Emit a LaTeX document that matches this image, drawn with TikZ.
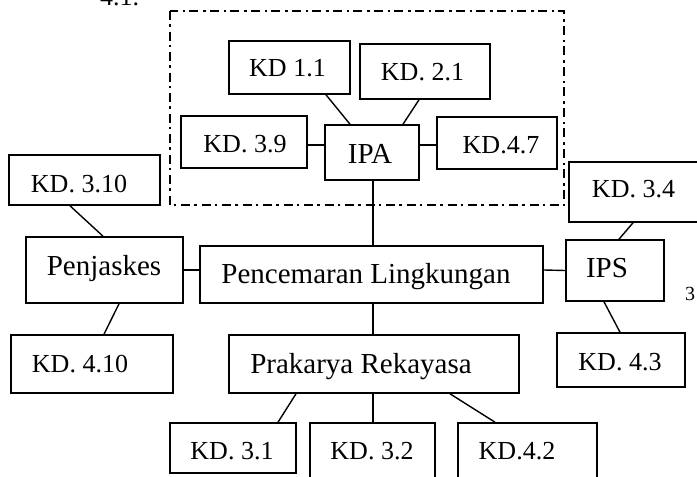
\documentclass[tikz,border=0pt]{standalone}
\usepackage{fontspec}
\setmainfont{Liberation Serif}
\begin{document}
\begin{tikzpicture}[x=1pt,y=-1pt,
  box/.style={draw, line width=1.6pt, rectangle, inner sep=0pt},
  link/.style={line width=1.4pt},
  frame/.style={line width=1.5pt, dash pattern=on 9pt off 4pt on 2.5pt off 5pt},
  kdtxt/.style={anchor=base, inner sep=0pt, font=\fontsize{26}{30}\selectfont},
  subtxt/.style={anchor=base, inner sep=0pt, font=\fontsize{29}{33}\selectfont},
  frag/.style={anchor=base west, inner sep=0pt}]
\clip (0,0) rectangle (697,477);

% box: name, x1, y1, x2, y2
\newcommand\mkbox[5]{\node[box, minimum width={#4-#2}, minimum height={#5-#3}] (#1) at ({(#2+#4)/2},{(#3+#5)/2}) {};}

% grouping frame round the IPA cluster
\draw[frame] (170,11) rectangle (564,205);

% IPA cluster
\mkbox{kdA}{229}{41}{350}{94}
\mkbox{kdB}{360}{44}{490}{99}
\mkbox{kdC}{181}{116}{307}{168}
\mkbox{ipa}{325}{125}{419}{180}
\mkbox{kdD}{437}{117}{557}{169}
\node[kdtxt] at (287.5,76) {KD 1.1};
\node[kdtxt] at (422.5,80) {KD. 2.1};
\node[kdtxt] at (245,152) {KD. 3.9};
\node[subtxt] at (370,163) {IPA};
\node[kdtxt] at (501,153) {KD.4.7};

% left branch
\mkbox{kdE}{9}{155}{160}{205}
\mkbox{pjk}{26}{237}{183}{303}
\mkbox{kdF}{11}{335}{173}{393}
\node[kdtxt] at (79,192) {KD. 3.10};
\node[subtxt] at (104,275) {Penjaskes};
\node[kdtxt] at (80,372) {KD. 4.10};

% centre
\mkbox{pcm}{200}{246}{543}{303}
\node[subtxt] at (366,283) {Pencemaran Lingkungan};

% bottom branch
\mkbox{pkr}{229}{335}{519}{393}
\mkbox{kdG}{170}{423}{296}{473}
\mkbox{kdH}{310}{423}{435}{495}
\mkbox{kdI}{458}{423}{597}{495}
\node[subtxt] at (361,373) {Prakarya Rekayasa};
\node[kdtxt] at (232,459) {KD. 3.1};
\node[kdtxt] at (372,459) {KD. 3.2};
\node[kdtxt] at (517,459) {KD.4.2};

% right branch
\mkbox{kdJ}{569}{162}{725}{222}
\mkbox{ips}{566}{240}{664}{301}
\mkbox{kdK}{557}{333}{685}{387}
\node[kdtxt] at (633.5,197) {KD. 3.4};
\node[subtxt] at (607,277) {IPS};
\node[kdtxt] at (620,370) {KD. 4.3};

% fragments of the surrounding page text
\node[frag, font=\fontsize{26}{30}\selectfont] (topfrag) at (100,5) {4.1.};
\node[frag, font=\fontsize{20}{24}\selectfont] (sidefrag) at (685,300) {3};

% connectors
\draw[link] ([xshift=36.5pt]kdA.south) -- ([xshift=-22pt]ipa.north);
\draw[link] ([xshift=-6pt]kdB.south) -- ([xshift=31pt]ipa.north);
\draw[link] ([yshift=-3pt]kdC.east) -- ([yshift=7.5pt]ipa.west);
\draw[link] ([yshift=-2pt]kdD.west) -- ([yshift=7.5pt]ipa.east);
\draw[link] ([xshift=1pt]ipa.south) -- ([xshift=1.5pt]pcm.north);

\draw[link] ([xshift=-14.5pt]kdE.south) -- ([xshift=-1.5pt]pjk.north);
\draw[link] (pjk.east) -- ([yshift=4.5pt]pcm.west);
\draw[link] ([xshift=14.5pt]pjk.south) -- ([xshift=12pt]kdF.north);

\draw[link] ([xshift=1.5pt]pcm.south) -- ([xshift=-1pt]pkr.north);
\draw[link] ([xshift=-78pt]pkr.south) -- ([xshift=45pt]kdG.north);
\draw[link] ([xshift=-1pt]pkr.south) -- ([xshift=0.5pt]kdH.north);
\draw[link] ([xshift=76pt]pkr.south) -- ([xshift=-32.5pt]kdI.north);

\draw[link] ([yshift=4.5pt]pcm.east) -- (ips.west);
\draw[link] ([xshift=-14pt]kdJ.south) -- ([xshift=4pt]ips.north);
\draw[link] ([xshift=-11pt]ips.south) -- ([xshift=-1pt]kdK.north);
\end{tikzpicture}
\end{document}
